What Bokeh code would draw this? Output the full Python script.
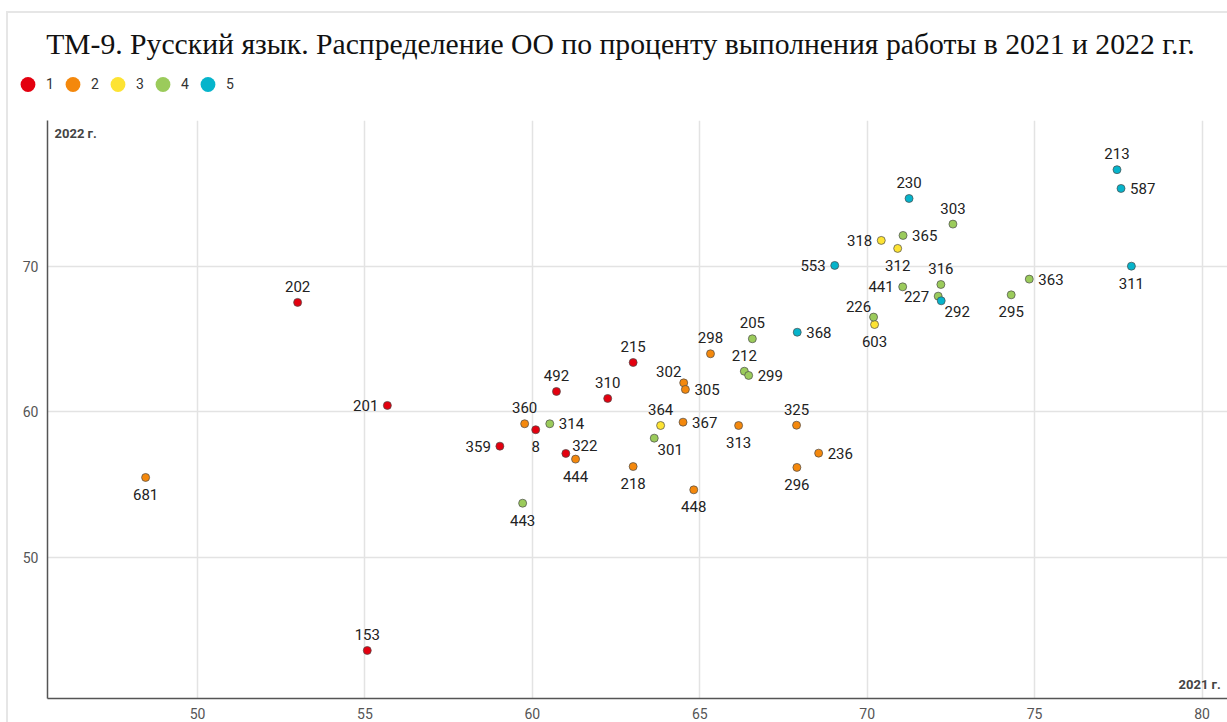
import math
from bokeh.plotting import figure
from bokeh.layouts import column
from bokeh.models import (ColumnDataSource, LabelSet, Label, Legend, LegendItem,
                          FixedTicker, Range1d)
from bokeh.core.properties import value
from bokeh.embed import file_html
from bokeh.resources import INLINE

TITLE = "ТМ-9. Русский язык. Распределение ОО по проценту выполнения работы в 2021 и 2022 г.г."
X_TITLE = "2021 г."
Y_TITLE = "2022 г."
GROUPS = ["1", "2", "3", "4", "5"]
COLORS = ["#e3000f", "#f4880c", "#fde333", "#9bcb5b", "#06b4cb"]
X_TICKS = [50, 55, 60, 65, 70, 75, 80]
Y_TICKS = [50, 60, 70]
X_RANGE = (45.52, 80.76)
Y_RANGE = (40.31, 80.03)

school_ids = ["202", "153", "201", "359", "8", "492", "322", "310", "215",
              "681", "360", "444", "218", "302", "305", "367", "448", "298", "313", "325", "236", "296",
              "364", "603", "318", "312",
              "314", "443", "301", "212", "299", "205", "226", "441", "316", "227", "303", "365", "295", "363",
              "368", "553", "230", "292", "213", "587", "311"]
x_2021 = [52.99, 55.07, 55.67, 59.03, 60.10, 60.72, 61.00, 62.25, 63.01,
          48.45, 59.77, 61.29, 63.01, 64.52, 64.57, 64.50, 64.82, 65.32, 66.16, 67.89, 68.55, 67.90,
          63.83, 70.22, 70.42, 70.91,
          60.52, 59.71, 63.64, 66.33, 66.46, 66.57, 70.19, 71.06, 72.20, 72.12, 72.56, 71.07, 74.30, 74.84,
          67.91, 69.03, 71.25, 72.21, 77.46, 77.58, 77.89]
y_2022 = [67.53, 43.61, 60.45, 57.65, 58.78, 61.41, 57.15, 60.93, 63.40,
          55.50, 59.19, 56.76, 56.25, 62.00, 61.55, 59.30, 54.65, 64.00, 59.07, 59.09, 57.17, 56.19,
          59.07, 66.01, 71.79, 71.24,
          59.19, 53.73, 58.20, 62.80, 62.51, 65.03, 66.52, 68.60, 68.76, 67.96, 72.91, 72.13, 68.05, 69.13,
          65.48, 70.07, 74.67, 67.64, 76.65, 75.36, 70.02]
group = ["1"] * 9 + ["2"] * 13 + ["3"] * 4 + ["4"] * 14 + ["5"] * 7
label_pos = ["t", "t", "l", "l", "b", "t", "tr", "t", "t",
             "b", "t", "b", "b", "tl", "r", "r", "b", "t", "b", "t", "r", "b",
             "t", "b", "l", "b",
             "r", "b", "br", "t", "r", "t", "tl", "l", "t", "l", "t", "r", "b", "r",
             "r", "l", "t", "br", "t", "r", "b"]

# label placement styles: (x_offset, y_offset, align)
PLACE = {
    "t": (0, 16, "center"),
    "b": (0, -17, "center"),
    "l": (-9, 0, "right"),
    "r": (9, 0, "left"),
    "tl": (-15, 11, "center"),
    "br": (16, -11, "center"),
    "tr": (19, 8, "center"),
}

W = 1227
HEADER_H = 120

# ---- header: title + legend ----
head = figure(width=W, height=HEADER_H, x_range=Range1d(0, W), y_range=Range1d(HEADER_H, 0),
              output_backend="svg", toolbar_location=None, title=None,
              x_axis_location=None, y_axis_location=None, min_border=0)
head.frame_align = False
head.outline_line_color = None
head.background_fill_alpha = 0
head.border_fill_alpha = 0
for g in head.grid:
    g.visible = False
head.add_layout(Label(x=620, y=43, text=TITLE, text_align="center", text_baseline="middle",
                      text_font="Liberation Serif", text_font_size="29.7px", text_color="#111111"))
legend_items = []
for gname, col in zip(GROUPS, COLORS):
    dummy = head.scatter(x=[math.nan], y=[math.nan], size=16, fill_color=col, line_color=None)
    legend_items.append(LegendItem(label=gname, renderers=[dummy]))
legend = Legend(items=legend_items, orientation="horizontal", location=(9, 16),
                glyph_width=37, glyph_height=40, label_standoff=0, label_width=8, spacing=0,
                padding=0, margin=0, border_line_color=None, background_fill_alpha=0,
                label_text_font="Roboto", label_text_font_size="14px", label_text_color="#333333")
head.add_layout(legend, "center")

# ---- chart ----
p = figure(width=W, height=602,
           x_range=Range1d(*X_RANGE), y_range=Range1d(*Y_RANGE),
           output_backend="svg", toolbar_location=None, title=None,
           min_border_left=47, min_border_right=0, min_border_top=0, min_border_bottom=24)
p.frame_align = False
p.outline_line_color = None
p.background_fill_color = "white"
p.border_fill_alpha = 0

for ax in (p.xaxis[0], p.yaxis[0]):
    ax.axis_line_color = "#555555"
    ax.axis_line_width = 1.5
    ax.major_tick_line_color = None
    ax.minor_tick_line_color = None
    ax.major_tick_in = 0
    ax.major_tick_out = 0
    ax.major_label_text_font = "Roboto"
    ax.major_label_text_font_size = "14px"
    ax.major_label_text_color = "#555555"
p.xaxis.ticker = FixedTicker(ticks=X_TICKS)
p.yaxis.ticker = FixedTicker(ticks=Y_TICKS)
p.xaxis.major_label_standoff = 9
p.yaxis.major_label_standoff = 9
for g in (p.xgrid[0], p.ygrid[0]):
    g.grid_line_color = "#e3e3e3"
    g.grid_line_width = 1.5

for gname, col in zip(GROUPS, COLORS):
    idx = [i for i, g in enumerate(group) if g == gname]
    src = ColumnDataSource(dict(x=[x_2021[i] for i in idx], y=[y_2022[i] for i in idx]))
    p.scatter("x", "y", source=src, size=8, fill_color=col, line_color="#4a4a4a", line_width=0.7)

for code, (xo, yo, align) in PLACE.items():
    idx = [i for i, c in enumerate(label_pos) if c == code]
    if not idx:
        continue
    src = ColumnDataSource(dict(x=[x_2021[i] for i in idx], y=[y_2022[i] for i in idx],
                                t=[school_ids[i] for i in idx]))
    p.add_layout(LabelSet(x="x", y="y", text="t", source=src, x_offset=xo, y_offset=yo,
                          text_align=value(align), text_baseline=value("middle"),
                          text_font=value("Roboto"), text_font_size=value("15px"),
                          text_color=value("#222222")))

p.add_layout(Label(x=X_RANGE[0], y=Y_RANGE[1], x_offset=7, y_offset=-5, text=Y_TITLE,
                   text_align="left", text_baseline="top", text_font="Roboto",
                   text_font_style="bold", text_font_size="13px", text_color="#444444"))
p.add_layout(Label(x=X_RANGE[1], y=Y_RANGE[0], x_offset=-49, y_offset=7, text=X_TITLE,
                   text_align="left", text_baseline="bottom", text_font="Roboto",
                   text_font_style="bold", text_font_size="13px", text_color="#444444"))

# faint container frame (left and top edges) behind the transparent canvases
frame_css = ("linear-gradient(#e6e6e6, #e6e6e6) 6px 11px / 2px 100% no-repeat, "
             "linear-gradient(#e6e6e6, #e6e6e6) 6px 11px / 100% 2px no-repeat, white")
layout = column(head, p, spacing=0, styles={"background": frame_css})

open("out.html", "w").write(file_html(layout, INLINE))
